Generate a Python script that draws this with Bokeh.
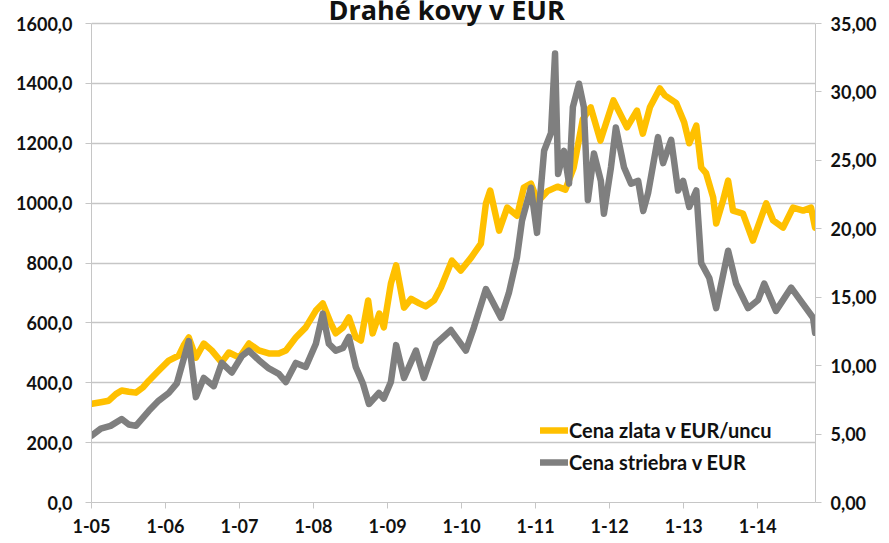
import pandas as pd
from bokeh.plotting import figure
from bokeh.models import Range1d, LinearAxis, FixedTicker, Legend, LegendItem, Label
from bokeh.embed import file_html
from bokeh.resources import INLINE

# ---------------- data ----------------
gold_dates = [
    "2005-01-03", "2005-02-16", "2005-03-27", "2005-05-01", "2005-05-30", "2005-07-04", "2005-08-08", "2005-09-13", "2005-10-11", "2005-11-29",
    "2006-01-17", "2006-03-08", "2006-04-01", "2006-04-26", "2006-05-31", "2006-07-09", "2006-08-17", "2006-10-05", "2006-11-10",
    "2007-01-01", "2007-02-17", "2007-04-06", "2007-05-26", "2007-07-14", "2007-08-18", "2007-10-06", "2007-11-24",
    "2008-01-13", "2008-02-16", "2008-03-27", "2008-04-20", "2008-05-26", "2008-06-24", "2008-07-28", "2008-08-22", "2008-09-27", "2008-10-19", "2008-11-21", "2008-12-13",
    "2009-01-17", "2009-02-12", "2009-03-23", "2009-04-27", "2009-06-06", "2009-07-08", "2009-08-18", "2009-09-21", "2009-11-14", "2009-12-28",
    "2010-02-17", "2010-04-06", "2010-05-01", "2010-05-22", "2010-07-05", "2010-08-14", "2010-10-02", "2010-11-04", "2010-12-09",
    "2011-01-12", "2011-03-01", "2011-04-19", "2011-05-28", "2011-07-08", "2011-08-22", "2011-09-30", "2011-11-17",
    "2012-01-20", "2012-03-27", "2012-05-15", "2012-06-13", "2012-07-18", "2012-09-05", "2012-09-30", "2012-11-24",
    "2013-01-03", "2013-01-28", "2013-03-04", "2013-03-28", "2013-04-21", "2013-05-26", "2013-06-10", "2013-07-14", "2013-08-08", "2013-09-01", "2013-10-20", "2013-12-08",
    "2014-02-12", "2014-03-18", "2014-05-06", "2014-06-24", "2014-08-13", "2014-09-21", "2014-10-11",
]
gold_eur = [
    330, 335, 340, 362, 374, 370, 367, 385, 407, 441,
    474, 491, 525, 551, 484, 531, 508, 468, 501,
    484, 531, 508, 498, 498, 508, 551, 585,
    641, 665, 598, 565, 585, 618, 551, 541, 675, 565, 631, 585,
    731, 792, 651, 680, 665, 655, 675, 718, 808, 775,
    818, 865, 999, 1042, 908, 985, 958, 1052, 1065,
    1005, 1040, 1055, 1045, 1119, 1280, 1320, 1209,
    1343, 1253, 1309, 1232, 1320, 1383, 1360, 1335,
    1270, 1200, 1259, 1119, 1100, 1019, 932, 1009, 1075, 975, 965, 875,
    999, 942, 918, 985, 975, 985, 918,
]

silver_dates = [
    "2005-01-03", "2005-02-16", "2005-04-05", "2005-05-30", "2005-07-04", "2005-08-08", "2005-10-11", "2005-11-29",
    "2006-01-17", "2006-02-26", "2006-04-01", "2006-04-26", "2006-05-31", "2006-07-09", "2006-08-27", "2006-10-06", "2006-11-24",
    "2007-01-13", "2007-02-16", "2007-04-07", "2007-05-26", "2007-07-14", "2007-08-18", "2007-10-06", "2007-11-24",
    "2008-01-13", "2008-02-16", "2008-03-17", "2008-04-20", "2008-05-26", "2008-06-24", "2008-07-28", "2008-09-01", "2008-10-01", "2008-11-19", "2008-12-13",
    "2009-01-17", "2009-02-12", "2009-03-23", "2009-05-21", "2009-06-29", "2009-08-27", "2009-11-09",
    "2010-01-22", "2010-03-03", "2010-05-01", "2010-07-14", "2010-08-22", "2010-10-01", "2010-10-26", "2010-12-09",
    "2011-01-08", "2011-02-12", "2011-03-18", "2011-04-07", "2011-04-22", "2011-05-21", "2011-06-15", "2011-07-04", "2011-08-03", "2011-08-27", "2011-09-16", "2011-10-16", "2011-11-19", "2011-12-04",
    "2012-01-08", "2012-02-01", "2012-03-12", "2012-04-16", "2012-05-21", "2012-06-15", "2012-07-09", "2012-08-27", "2012-09-21", "2012-10-31", "2012-12-04", "2012-12-29",
    "2013-01-28", "2013-03-04", "2013-03-28", "2013-05-07", "2013-06-10", "2013-08-08", "2013-09-16", "2013-11-14",
    "2014-01-03", "2014-02-02", "2014-04-01", "2014-06-15", "2014-08-13", "2014-10-01", "2014-10-11",
]
silver_eur = [
    4.9, 5.4, 5.6, 6.1, 5.7, 5.6, 6.7, 7.45,
    8.0, 8.7, 10.5, 11.8, 7.7, 9.1, 8.5, 10.2, 9.5,
    10.7, 11.1, 10.4, 9.8, 9.4, 8.8, 10.2, 9.9,
    11.6, 13.8, 11.6, 11.1, 11.3, 12.1, 9.9, 8.7, 7.2, 8.0, 7.6,
    8.8, 11.5, 9.1, 11.1, 9.1, 11.6, 12.6,
    11.1, 12.8, 15.6, 13.5, 15.3, 17.9, 20.6, 23.0,
    19.7, 25.7, 27.0, 32.8, 24.0, 25.7, 23.3, 28.9, 30.6, 28.9, 22.1, 25.5, 23.5, 21.1,
    24.5, 27.4, 24.5, 23.3, 23.5, 21.3, 22.6, 26.7, 24.8, 26.5, 22.8, 23.5,
    21.6, 22.8, 17.5, 16.4, 14.2, 18.4, 16.0, 14.2,
    14.8, 16.0, 14.0, 15.7, 14.5, 13.5, 12.4,
]

x_tick_years = [2005, 2006, 2007, 2008, 2009, 2010, 2011, 2012, 2013, 2014]
x_tick_labels = ["1-05", "1-06", "1-07", "1-08", "1-09", "1-10", "1-11", "1-12", "1-13", "1-14"]
left_ticks = [0, 200, 400, 600, 800, 1000, 1200, 1400, 1600]
left_labels = ["0,0", "200,0", "400,0", "600,0", "800,0", "1000,0", "1200,0", "1400,0", "1600,0"]
right_ticks = [0, 5, 10, 15, 20, 25, 30, 35]
right_labels = ["0,00", "5,00", "10,00", "15,00", "20,00", "25,00", "30,00", "35,00"]

title_text = "Drahé kovy v EUR"
gold_label = "Cena zlata v EUR/uncu"
silver_label = "Cena striebra v EUR"

# ---------------- figure ----------------
FONT = "Lato"
GOLD = "#FFC000"
SILVER = "#7F7F7F"
GRID = "#C6C6C6"

LEFT_MAX, RIGHT_MAX = 1600, 35
# the frame reaches the top edge so that the title can sit inside it;
# the axis scales keep 1600 / 35 at 23 px below the top (479 px per full scale)
TOP_PAD = 23.0 / 479.0
left_top = LEFT_MAX * (1 + TOP_PAD)
right_top = RIGHT_MAX * (1 + TOP_PAD)

x_start = pd.Timestamp("2005-01-01")
x_end = pd.Timestamp("2014-10-13")

p = figure(width=889, height=543, x_axis_type="datetime",
           x_range=Range1d(x_start, x_end), y_range=Range1d(0, left_top),
           output_backend="svg", toolbar_location=None,
           min_border_left=91, min_border_right=74, min_border_top=0, min_border_bottom=41)
p.extra_y_ranges = {"silver": Range1d(0, right_top)}
p.outline_line_color = None
p.background_fill_color = "white"

gx = pd.to_datetime(gold_dates)
sx = pd.to_datetime(silver_dates)

r_gold = p.line(gx, gold_eur, line_color=GOLD, line_width=6.5, line_join="round", line_cap="round")
r_silver = p.line(sx, silver_eur, line_color=SILVER, line_width=6.5, line_join="round", line_cap="round",
                  y_range_name="silver")

def style_axis(ax, standoff):
    ax.minor_tick_line_color = None
    ax.axis_line_color = GRID
    ax.major_tick_line_color = GRID
    ax.major_tick_out = 6
    ax.major_tick_in = 0
    ax.major_label_standoff = standoff
    ax.major_label_text_font = FONT
    ax.major_label_text_font_style = "bold"
    ax.major_label_text_font_size = "18px"
    ax.major_label_text_color = "#111111"

# x axis
tick_ms = [int(pd.Timestamp(f"{y}-01-01").value // 10**6) for y in x_tick_years]
xa = p.xaxis[0]
xa.ticker = FixedTicker(ticks=tick_ms)
xa.major_label_overrides = {t: l for t, l in zip(tick_ms, x_tick_labels)}
style_axis(xa, 10)

# left axis
ya = p.yaxis[0]
ya.ticker = FixedTicker(ticks=left_ticks)
ya.major_label_overrides = {t: l for t, l in zip(left_ticks, left_labels)}
ya.bounds = (0, LEFT_MAX)
style_axis(ya, 13)

# right axis
ra = LinearAxis(y_range_name="silver", ticker=FixedTicker(ticks=right_ticks), bounds=(0, RIGHT_MAX))
ra.major_label_overrides = {t: l for t, l in zip(right_ticks, right_labels)}
style_axis(ra, 9)
p.add_layout(ra, "right")

p.xgrid.grid_line_color = None
p.ygrid.grid_line_color = GRID
p.ygrid.grid_line_width = 1.3
p.ygrid.ticker = FixedTicker(ticks=left_ticks)

# legend
legend = Legend(items=[LegendItem(label=gold_label, renderers=[r_gold]),
                       LegendItem(label=silver_label, renderers=[r_silver])],
                location=(449, 27), orientation="vertical")
legend.background_fill_alpha = 0
legend.border_line_alpha = 0
legend.padding = 0
legend.margin = 0
legend.spacing = 6
legend.label_height = 26
legend.glyph_height = 26
legend.glyph_width = 28
legend.label_standoff = 1
legend.label_text_font = FONT
legend.label_text_font_style = "bold"
legend.label_text_font_size = "20px"
legend.label_text_color = "#111111"
p.add_layout(legend, "center")

# title: its top touches the page edge, as in the reference
title = Label(x=pd.Timestamp("2009-10-19"), y=LEFT_MAX * (1 + 14.0 / 479.0), text=title_text,
              text_align="center", text_baseline="alphabetic",
              text_font="Open Sans", text_font_style="bold", text_font_size="27px",
              text_color="#111111")
p.add_layout(title)

open("out.html", "w").write(file_html(p, INLINE))
